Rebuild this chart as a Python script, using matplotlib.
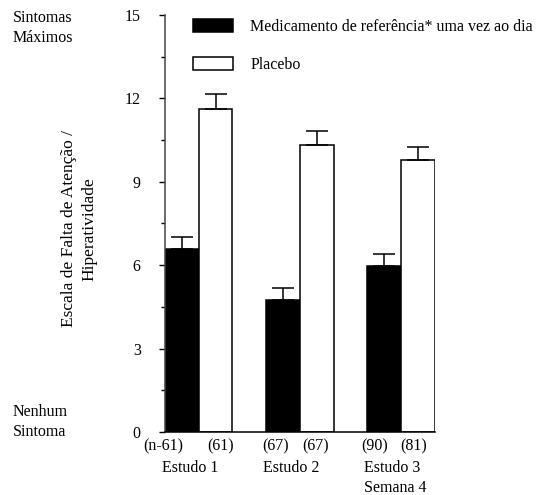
import matplotlib
matplotlib.use("Agg")
import matplotlib.pyplot as plt
from matplotlib.ticker import MultipleLocator
import numpy as np

# dados
estudos = ['Estudo 1', 'Estudo 2', 'Estudo 3\nSemana 4']
medicamento = [6.57, 4.75, 5.98]
medicamento_err = [0.45, 0.42, 0.43]
placebo = [11.62, 10.32, 9.80]
placebo_err = [0.53, 0.52, 0.44]
n_medicamento = ['(n-61)', '(67)', '(90)']
n_placebo = ['(61)', '(67)', '(81)']

plt.rcParams['font.family'] = ['Liberation Serif', 'DejaVu Serif']
plt.rcParams['font.size'] = 11.5

fig = plt.figure(figsize=(5.39, 4.95), dpi=100)
ax = fig.add_axes([0.306, 0.127, 0.501, 0.843])

x = np.arange(len(estudos)) * 3
zeros = [0] * len(estudos)

ax.bar(x, medicamento, width=1, align='center', color='black', edgecolor='black',
       linewidth=1.1, label='Medicamento de referência* uma vez ao dia',
       yerr=[zeros, medicamento_err], capsize=8,
       error_kw=dict(ecolor='black', elinewidth=1.1, capthick=1.1))
ax.bar(x + 1, placebo, width=1, align='center', color='white', edgecolor='black',
       linewidth=1.1, label='Placebo',
       yerr=[zeros, placebo_err], capsize=8,
       error_kw=dict(ecolor='black', elinewidth=1.1, capthick=1.1))

ax.set_xlim(-0.5, 7.5)
ax.set_ylim(0, 15)
ax.yaxis.set_major_locator(MultipleLocator(3))
ax.yaxis.set_minor_locator(MultipleLocator(1.5))
ax.tick_params(axis='y', which='major', length=4.5, width=1, pad=13, labelsize=11.5)
ax.tick_params(axis='y', which='minor', length=3, width=1)
ax.set_xticks([])

for s in ['top', 'right']:
    ax.spines[s].set_visible(False)
for s in ['left', 'bottom']:
    ax.spines[s].set_linewidth(1.1)
ax.spines['left'].set_color('#444444')

# rótulos n e estudos (deslocamentos copiados da figura original)
desloc_med = [-0.56, -0.21, -0.28]
desloc_pla = [1.16, 0.97, 0.88]
for i in range(len(estudos)):
    ax.text(x[i] + desloc_med[i], -0.5, n_medicamento[i], ha='center', va='center')
    ax.text(x[i] + desloc_pla[i], -0.5, n_placebo[i], ha='center', va='center')
    ax.text(x[i] - 0.6, -1.0, estudos[i], ha='left', va='top', linespacing=1.3)

ax.set_ylabel('Escala de Falta de Atenção /\nHiperatividade', fontsize=12.5,
              linespacing=1.4)
ax.yaxis.set_label_coords(-0.25, 0.487)

fig.text(13 / 539, 1 - 28 / 495, 'Sintomas\nMáximos', ha='left', va='center',
         linespacing=1.4)
fig.text(13 / 539, 1 - 422 / 495, 'Nenhum\nSintoma', ha='left', va='center',
         linespacing=1.4)

ax.legend(loc='upper left', bbox_to_anchor=(193 / 539, 1 - 19 / 495),
          bbox_transform=fig.transFigure, frameon=False, borderpad=0, borderaxespad=0,
          handlelength=2.5, handleheight=0.85, handletextpad=1.1, labelspacing=1.4)

fig.savefig('out.png', dpi=100)
